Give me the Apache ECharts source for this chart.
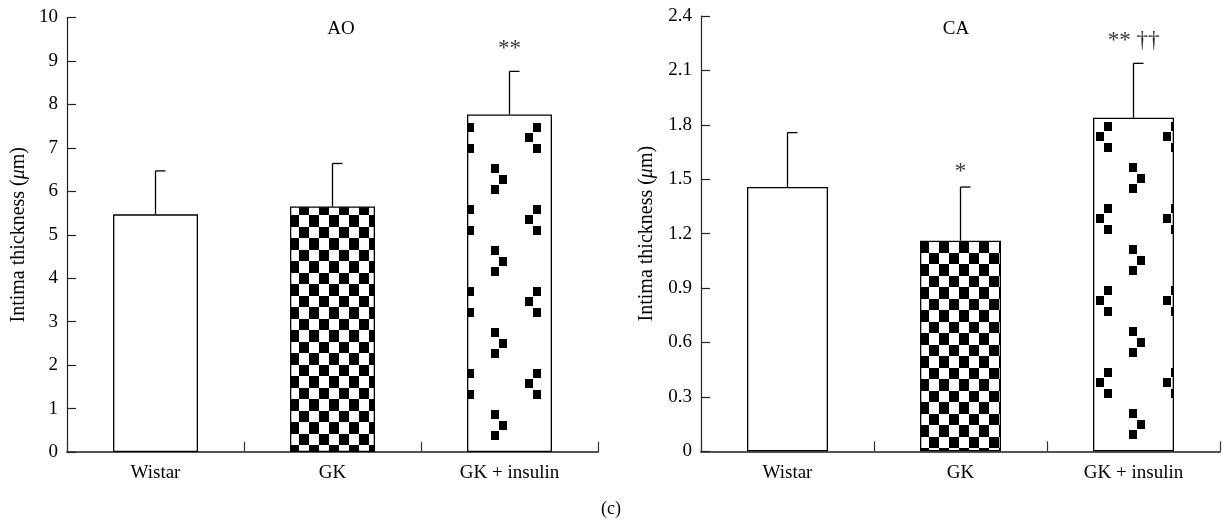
<!DOCTYPE html>
<html lang="en">

<head>
    <meta charset="UTF-8">
    <title>Intima thickness</title>
    <script src="https://cdn.jsdelivr.net/npm/echarts@6/dist/echarts.min.js"></script>
    <style>
        html, body { margin: 0; padding: 0; background: #fff; }
        #main { width: 1222px; height: 527px; }
    </style>
</head>

<body>
    <div id="main"></div>

    <script>
        // 数据
        var groups = ['Wistar', 'GK', 'GK + insulin'];
        var aoMean = [5.47, 5.65, 7.77];
        var aoSd = [1.0, 0.99, 0.99];
        var caMean = [1.457, 1.161, 1.839];
        var caSd = [0.30, 0.296, 0.30];
        var aoMarks = ['', '', '**'];
        var aoMarkY = [null, null, 9.28];
        var caMarks = ['', '*', '** ††'];
        var caMarkY = [null, 1.54, 2.265];

        var FONT = '"Liberation Serif", "DejaVu Serif", serif';

        // 棋盘格填充
        function checkerTile() {
            var c = document.createElement('canvas');
            c.width = 20;
            c.height = 23;
            var ctx = c.getContext('2d');
            ctx.fillStyle = '#fff';
            ctx.fillRect(0, 0, 20, 23);
            ctx.fillStyle = '#000';
            ctx.fillRect(10, 0, 10, 11);
            ctx.fillRect(0, 11, 10, 12);
            return c;
        }

        // 稀疏方块填充
        function dotsTile() {
            var c = document.createElement('canvas');
            c.width = 67;
            c.height = 82;
            var ctx = c.getContext('2d');
            ctx.fillStyle = '#fff';
            ctx.fillRect(0, 0, 67, 82);
            ctx.fillStyle = '#000';
            var sq = [[8, 0], [0, 10], [8, 21], [33, 41], [41, 52], [33, 62]];
            for (var i = 0; i < sq.length; i++) {
                ctx.fillRect(sq[i][0], sq[i][1], 8, 9);
            }
            return c;
        }

        var checker = checkerTile();
        var dots = dotsTile();

        function barItems(values, pats) {
            var out = [];
            for (var i = 0; i < values.length; i++) {
                out.push({
                    value: values[i],
                    itemStyle: { color: pats[i] }
                });
            }
            return out;
        }

        function errData(mean, sd) {
            var out = [];
            for (var i = 0; i < mean.length; i++) {
                out.push([i, mean[i], mean[i] + sd[i]]);
            }
            return out;
        }

        function markData(marks, ys) {
            var out = [];
            for (var i = 0; i < marks.length; i++) {
                if (ys[i] !== null) out.push({ value: [i, ys[i]], name: marks[i] });
            }
            return out;
        }

        function renderErr(params, api) {
            var base = api.coord([api.value(0), api.value(1)]);
            var top = api.coord([api.value(0), api.value(2)]);
            var st = { stroke: '#000', lineWidth: 1.3 };
            return {
                type: 'group',
                children: [{
                    type: 'line',
                    shape: { x1: base[0], y1: base[1], x2: top[0], y2: top[1] },
                    style: st
                }, {
                    type: 'line',
                    shape: { x1: top[0], y1: top[1], x2: top[0] + 10, y2: top[1] },
                    style: st
                }]
            };
        }

        var catAxis = {
            type: 'category',
            data: groups,
            axisLine: { lineStyle: { color: '#555', width: 2 } },
            axisTick: { show: true, inside: true, length: 10, alignWithLabel: false, lineStyle: { color: '#333', width: 1.2 } },
            axisLabel: { color: '#000', fontFamily: FONT, fontSize: 19, margin: 12 }
        };

        var yName = '{n|Intima thickness (}{i|μ}{n|m)}';
        var yNameStyle = {
            rich: {
                n: { fontFamily: FONT, fontSize: 20, color: '#000' },
                i: { fontFamily: FONT, fontSize: 20, color: '#000', fontStyle: 'italic' }
            }
        };

        function valAxis(idx, max, step, gap, fmt) {
            return {
                type: 'value',
                gridIndex: idx,
                min: 0,
                max: max,
                interval: step,
                name: yName,
                nameLocation: 'middle',
                nameGap: gap,
                nameTextStyle: yNameStyle,
                axisLine: { show: true, lineStyle: { color: '#222', width: 1.2 } },
                axisTick: { show: true, inside: true, length: 9, lineStyle: { color: '#222', width: 1.2 } },
                splitLine: { show: false },
                axisLabel: { color: '#000', fontFamily: FONT, fontSize: 19, margin: 9, formatter: fmt }
            };
        }

        var myChart = echarts.init(document.getElementById('main'));

        var markLabel = {
            show: true,
            position: 'inside',
            formatter: '{b}',
            color: '#000',
            fontFamily: FONT,
            fontSize: 23
        };

        var option = {
            animation: false,
            backgroundColor: '#fff',
            grid: [
                { left: 67, right: 624, top: 17.5, bottom: 75 },
                { left: 701, right: 2, top: 16, bottom: 75.7 }
            ],
            xAxis: [
                Object.assign({ gridIndex: 0 }, catAxis),
                Object.assign({ gridIndex: 1 }, catAxis)
            ],
            yAxis: [
                valAxis(0, 10, 1, 38, function (v) { return String(v); }),
                valAxis(1, 2.4, 0.3, 44, function (v) { return v === 0 ? '0' : v.toFixed(1); })
            ],
            graphic: [
                { type: 'text', x: 341, y: 29, style: { text: 'AO', font: '19px ' + FONT, fill: '#000', align: 'center', verticalAlign: 'middle' } },
                { type: 'text', x: 956, y: 29, style: { text: 'CA', font: '19px ' + FONT, fill: '#000', align: 'center', verticalAlign: 'middle' } },
                { type: 'text', x: 611, y: 509, style: { text: '(c)', font: '18px ' + FONT, fill: '#000', align: 'center', verticalAlign: 'middle' } }
            ],
            series: [{
                    type: 'bar',
                    xAxisIndex: 0,
                    yAxisIndex: 0,
                    barWidth: 85,
                    itemStyle: { borderColor: '#000', borderWidth: 1.3 },
                    data: barItems(aoMean, ['#fff',
                        { image: checker, repeat: 'repeat', x: 289, y: 204 },
                        { image: dots, repeat: 'repeat', x: 458, y: 123 }])
                },
                {
                    type: 'bar',
                    xAxisIndex: 1,
                    yAxisIndex: 1,
                    barWidth: 81,
                    itemStyle: { borderColor: '#000', borderWidth: 1.3 },
                    data: barItems(caMean, ['#fff',
                        { image: checker, repeat: 'repeat', x: 919, y: 230 },
                        { image: dots, repeat: 'repeat', x: 1096, y: 122 }])
                },
                {
                    type: 'custom',
                    xAxisIndex: 0,
                    yAxisIndex: 0,
                    renderItem: renderErr,
                    encode: { x: 0, y: [1, 2] },
                    data: errData(aoMean, aoSd),
                    z: 3
                },
                {
                    type: 'custom',
                    xAxisIndex: 1,
                    yAxisIndex: 1,
                    renderItem: renderErr,
                    encode: { x: 0, y: [1, 2] },
                    data: errData(caMean, caSd),
                    z: 3
                },
                {
                    type: 'scatter',
                    xAxisIndex: 0,
                    yAxisIndex: 0,
                    symbolSize: 0,
                    label: markLabel,
                    data: markData(aoMarks, aoMarkY)
                },
                {
                    type: 'scatter',
                    xAxisIndex: 1,
                    yAxisIndex: 1,
                    symbolSize: 0,
                    label: markLabel,
                    data: markData(caMarks, caMarkY)
                }
            ]
        };

        myChart.setOption(option);
    </script>
</body>

</html>
